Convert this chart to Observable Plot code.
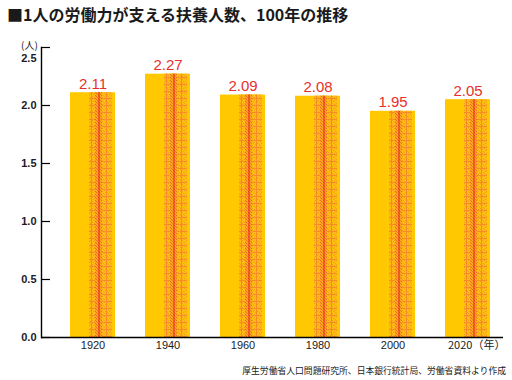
<!DOCTYPE html>
<html>
<head>
<meta charset="utf-8">
<script src="https://cdn.jsdelivr.net/npm/d3@7"></script>
<script src="https://cdn.jsdelivr.net/npm/@observablehq/plot@0.6"></script>
<style>
  body { margin: 0; background: #fff; }
  #wrap { position: relative; width: 512px; height: 380px; overflow: hidden; font-family: "Noto Sans CJK JP", sans-serif; }
  #title { position: absolute; left: 7px; top: 2px; font-size: 16px; font-weight: bold; color: #1a1a1a; white-space: nowrap; }
  #unit { position: absolute; left: 21px; top: 37px; font-size: 10px; color: #1a1a1a; }
  #caption { position: absolute; right: 6px; top: 364px; font-size: 8.8px; color: #1a1a1a; white-space: nowrap; }
  #chart { position: absolute; left: 0; top: 0; }
</style>
</head>
<body>
<div id="wrap">
  <div id="chart"></div>
  <div id="title">■1人の労働力が支える扶養人数、100年の推移</div>
  <div id="unit">(人)</div>
  <div id="caption">厚生労働省人口問題研究所、日本銀行統計局、労働省資料より作成</div>
</div>
<script>
const years = ["1920", "1940", "1960", "1980", "2000", "2020"];
const values = [2.11, 2.27, 2.09, 2.08, 1.95, 2.05];
const yTicks = [0, 0.5, 1.0, 1.5, 2.0, 2.5];
const lastYearLabel = "2020（年）";

const data = years.map((year, i) => ({year, value: values[i]}));

const defsMark = () => {
  const ns = "http://www.w3.org/2000/svg";
  const defs = document.createElementNS(ns, "defs");
  defs.innerHTML = `
    <pattern id="halftone" patternUnits="userSpaceOnUse" width="4" height="7">
      <rect width="4" height="7" fill="#FDBE10"/>
      <rect x="0" y="1" width="1" height="1" fill="#F7A020"/>
      <rect x="2" y="2" width="1" height="1" fill="#F7A020"/>
      <rect x="1" y="3" width="1" height="1" fill="#F59A22"/>
      <rect x="3" y="4" width="1" height="1" fill="#F7A020"/>
      <rect x="0" y="5" width="1" height="1" fill="#F59A22"/>
      <rect x="2" y="6" width="1" height="1" fill="#F7A020"/>
      <rect x="0" y="0" width="4" height="1" fill="#F58C24"/>
    </pattern>
    <pattern id="center" patternUnits="userSpaceOnUse" width="3" height="3">
      <rect width="3" height="3" fill="#F9A81C"/>
      <rect x="0" y="0" width="1" height="1" fill="#F06A2A"/>
      <rect x="1" y="1" width="1" height="1" fill="#F2802A"/>
      <rect x="2" y="2" width="1" height="1" fill="#F06A2A"/>
    </pattern>`;
  return defs;
};

const plot = Plot.plot({
  width: 512,
  height: 380,
  marginLeft: 41,
  marginRight: 9,
  marginTop: 47,
  marginBottom: 43,
  style: {background: "transparent", fontFamily: "'Liberation Sans', Arial, sans-serif"},
  x: {type: "band", domain: years, range: [69, 491], paddingInner: 0.4, paddingOuter: 0, label: null},
  y: {domain: [0, 2.5], label: null},
  marks: [
    defsMark,
    Plot.barY(data, {x: "year", y: "value", fill: "#FFC800"}),
    Plot.barY(data, {x: "year", y: "value", fill: "url(#halftone)", insetLeft: 19, insetRight: 3}),
    Plot.barY(data, {x: "year", y: "value", fill: "url(#center)", insetLeft: 25, insetRight: 13}),
    Plot.barY(data, {x: "year", y: "value", fill: "#F68A28", insetLeft: 21, insetRight: 23}),
    Plot.barY(data, {x: "year", y: "value", fill: "#F68A28", insetLeft: 36, insetRight: 8}),
    Plot.barY(data, {x: "year", y: "value", fill: "#E8231E", insetLeft: 28.5, insetRight: 15.5}),
    Plot.text(data, {x: "year", y: "value", text: d => d.value.toFixed(2), fill: "#E8302A", fontSize: 15, lineAnchor: "bottom", dy: -4}),
    Plot.ruleY([0], {stroke: "#000", strokeWidth: 1.4}),
    Plot.frame({anchor: "left", stroke: "#000", strokeWidth: 1.4}),
    Plot.tickY(yTicks, {y: d => d, stroke: "#000", strokeWidth: 1.2, insetRight: 462 - 9}),
    Plot.axisY({ticks: yTicks.slice(0, -1), tickSize: 0, tickPadding: 5, tickFormat: d => d.toFixed(1), fontSize: 11, fontWeight: "bold", fill: "#1a1a2a"}),
    Plot.axisY({ticks: yTicks.slice(-1), tickSize: 0, tickPadding: 5, tickFormat: d => d.toFixed(1), fontSize: 11, fontWeight: "bold", fill: "#1a1a2a", dy: 11}),
    Plot.axisX({ticks: years.slice(0, -1), tickSize: 0, tickPadding: 4, fontSize: 11, fill: "#1a1a1a"}),
    Plot.text([years[years.length - 1]], {x: d => d, y: 0, text: () => lastYearLabel, textAnchor: "start", lineAnchor: "top", dx: -20, dy: 4, fontSize: 11, fill: "#1a1a1a", fontFamily: "'Noto Sans CJK JP', sans-serif"})
  ]
});

document.getElementById("chart").appendChild(plot);
</script>
</body>
</html>
